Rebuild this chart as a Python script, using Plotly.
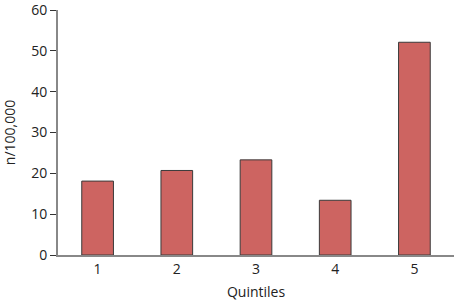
import plotly.graph_objects as go

categories = ["1", "2", "3", "4", "5"]
values = [18.1, 20.7, 23.3, 13.4, 52.1]
y_ticks = [0, 10, 20, 30, 40, 50, 60]

fig = go.Figure(go.Bar(
    x=categories, y=values, width=0.4,
    marker=dict(color="#CD6461", line=dict(color="#3a3a3a", width=1)),
))
fig.update_layout(
    width=454, height=301,
    margin=dict(l=58, r=0, t=4, b=46),
    paper_bgcolor="white", plot_bgcolor="white",
    font=dict(family="Open Sans, Noto Sans, sans-serif", size=14, color="#222"),
    showlegend=False,
    bargap=0.6,
)
fig.update_xaxes(
    type="category", range=[-0.5, 4.5],
    showline=True, linecolor="#888", linewidth=2,
    ticks="", showgrid=False, zeroline=False,
    tickfont=dict(size=14, color="#222"),
    title=dict(text="Quintiles", standoff=12, font=dict(size=14)),
)
fig.update_yaxes(
    range=[0, 60], tickvals=y_ticks,
    showline=True, linecolor="#888", linewidth=2,
    ticks="outside", ticklen=6, tickcolor="#333", tickwidth=1,
    showgrid=False, zeroline=False, ticklabeloverflow="allow",
    tickfont=dict(size=14, color="#222"),
    title=dict(text="n/100,000", standoff=14, font=dict(size=14)),
)
fig.write_html("out.html")
